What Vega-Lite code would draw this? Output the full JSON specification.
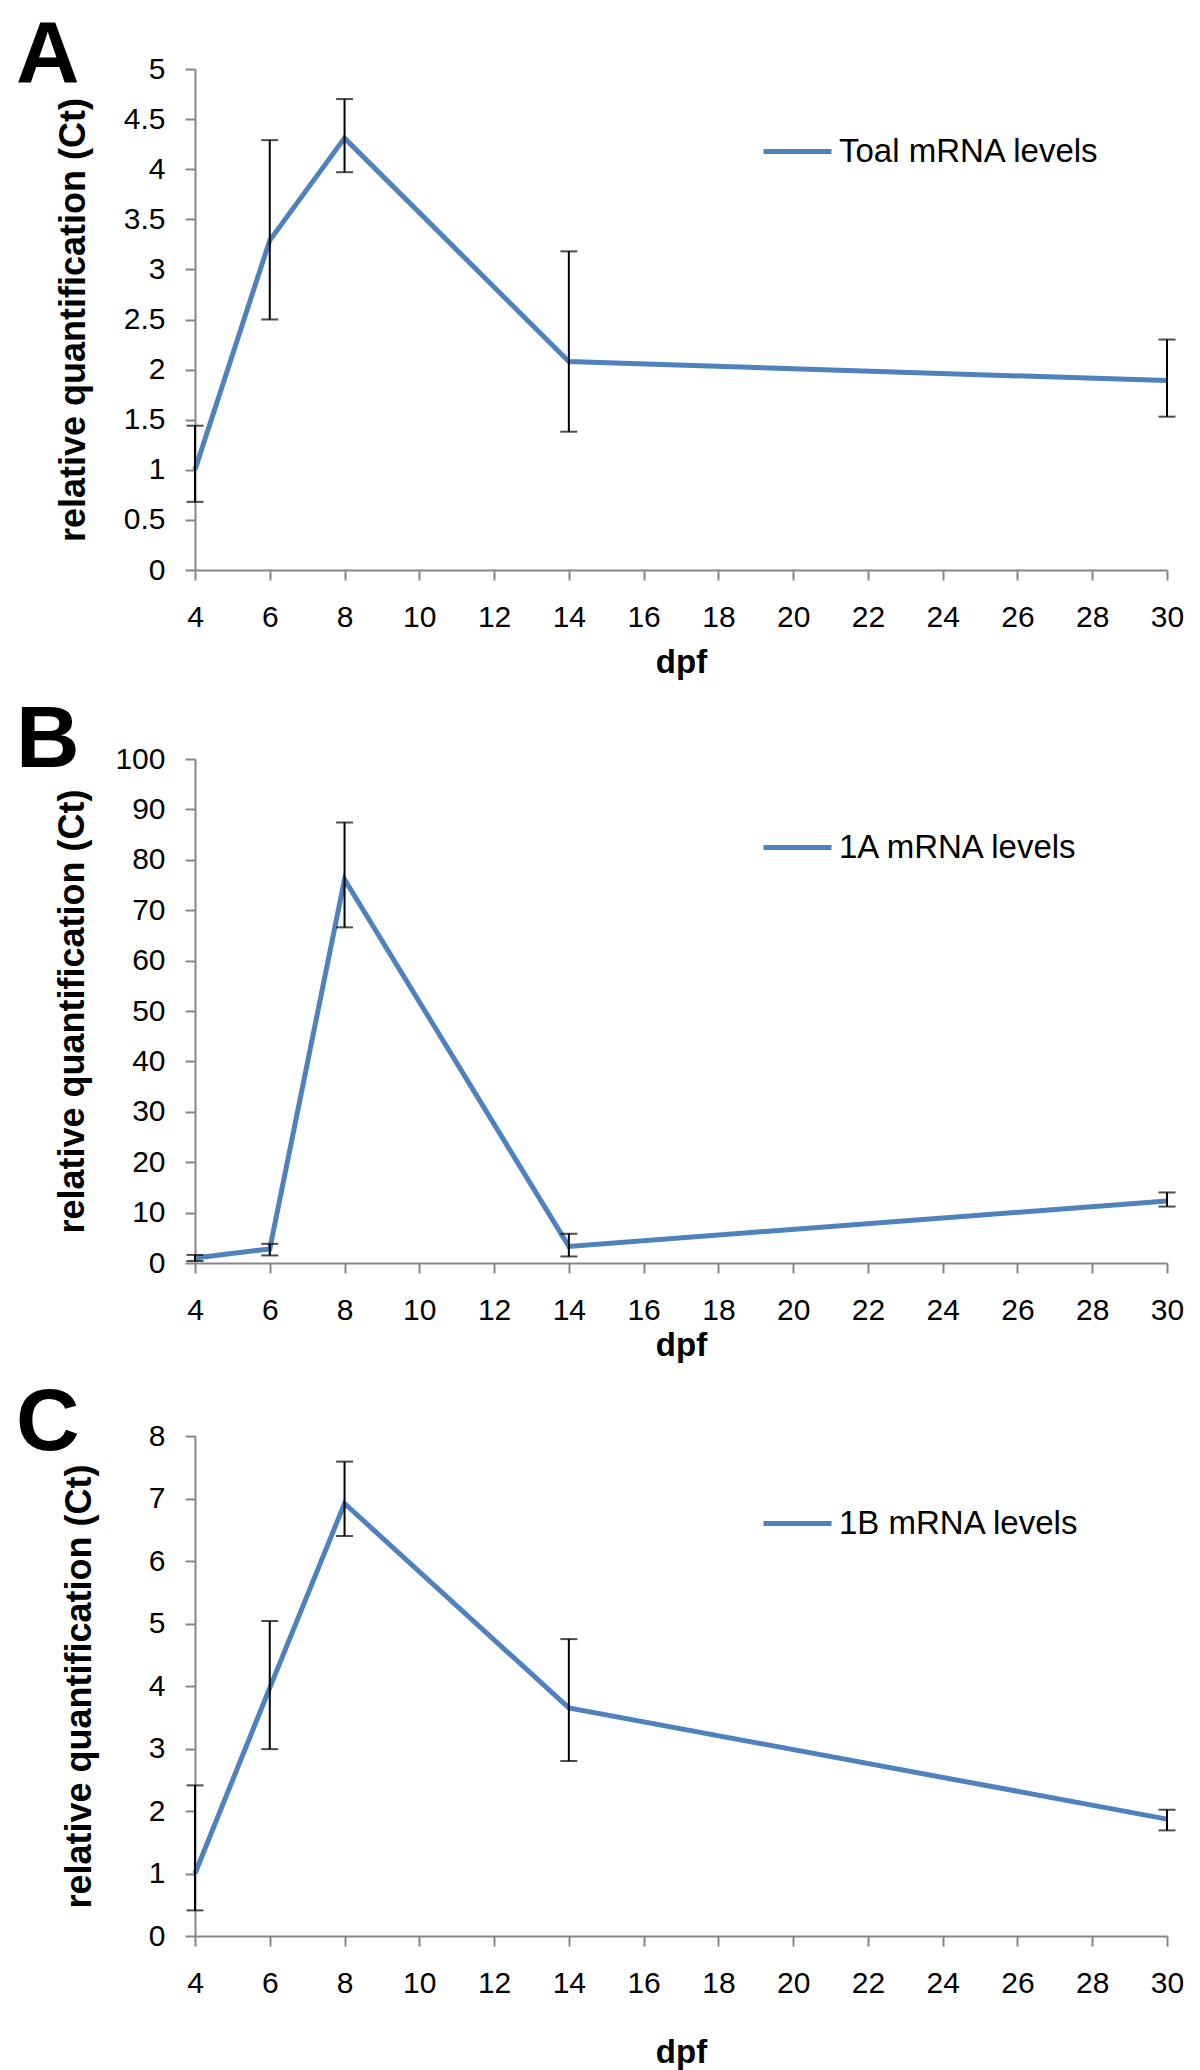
{
  "$schema": "https://vega.github.io/schema/vega-lite/v6.json",
  "background": "white",
  "padding": {"left": 16, "top": 12, "right": 10, "bottom": 4},
  "datasets": {
    "A": [
      {"dpf": 4, "value": 1.0, "lo": 0.68, "hi": 1.44, "series": "Toal mRNA levels"},
      {"dpf": 6, "value": 3.29, "lo": 2.5, "hi": 4.29, "series": "Toal mRNA levels"},
      {"dpf": 8, "value": 4.31, "lo": 3.97, "hi": 4.7, "series": "Toal mRNA levels"},
      {"dpf": 14, "value": 2.08, "lo": 1.38, "hi": 3.18, "series": "Toal mRNA levels"},
      {"dpf": 30, "value": 1.89, "lo": 1.53, "hi": 2.3, "series": "Toal mRNA levels"}
    ],
    "B": [
      {"dpf": 4, "value": 1.0, "lo": 0.4, "hi": 1.6, "series": "1A mRNA levels"},
      {"dpf": 6, "value": 2.8, "lo": 1.5, "hi": 3.8, "series": "1A mRNA levels"},
      {"dpf": 8, "value": 76.1, "lo": 66.6, "hi": 87.4, "series": "1A mRNA levels"},
      {"dpf": 14, "value": 3.3, "lo": 1.3, "hi": 5.8, "series": "1A mRNA levels"},
      {"dpf": 30, "value": 12.3, "lo": 11.2, "hi": 14.0, "series": "1A mRNA levels"}
    ],
    "C": [
      {"dpf": 4, "value": 1.0, "lo": 0.41, "hi": 2.41, "series": "1B mRNA levels"},
      {"dpf": 6, "value": 3.97, "lo": 2.99, "hi": 5.04, "series": "1B mRNA levels"},
      {"dpf": 8, "value": 6.92, "lo": 6.4, "hi": 7.59, "series": "1B mRNA levels"},
      {"dpf": 14, "value": 3.65, "lo": 2.8, "hi": 4.75, "series": "1B mRNA levels"},
      {"dpf": 30, "value": 1.87, "lo": 1.69, "hi": 2.02, "series": "1B mRNA levels"}
    ]
  },
  "config": {
    "view": {"stroke": null},
    "font": "Liberation Sans",
    "axis": {
      "domainColor": "#868686", "domainWidth": 2,
      "tickColor": "#868686", "tickWidth": 2, "tickSize": 10,
      "labelFont": "Liberation Sans", "labelFontSize": 30, "labelColor": "#000",
      "labelFlush": false, "labelOverlap": false,
      "titleFont": "Liberation Sans", "titleFontSize": 36, "titleFontWeight": "bold", "titleColor": "#000",
      "grid": false, "labelPadding": 20
    },
    "axisX": {"labelPadding": 22, "titleFontSize": 33},
    "legend": {
      "orient": "none", "legendX": 566,
      "symbolType": "stroke", "symbolSize": 4624, "symbolStrokeWidth": 5,
      "labelFont": "Liberation Sans", "labelFontSize": 33, "labelColor": "#000",
      "padding": 0, "labelOffset": 5, "labelLimit": 0
    },
    "title": {"font": "Liberation Sans", "fontSize": 88, "fontWeight": "bold", "color": "#000", "anchor": "start", "frame": "group"},
    "concat": {"spacing": 18}
  },
  "resolve": {"scale": {"color": "independent"}, "legend": {"color": "independent"}},
  "vconcat": [
    {
      "width": 972, "height": 501,
      "title": {"text": "A", "dx": -179, "offset": -46},
      "data": {"name": "A"},
      "layer": [
        {
          "mark": {"type": "line", "strokeWidth": 5},
          "encoding": {
            "x": {"field": "dpf", "type": "quantitative", "scale": {"domain": [4, 30], "nice": false, "zero": false}, "axis": {"values": [4, 6, 8, 10, 12, 14, 16, 18, 20, 22, 24, 26, 28, 30], "title": "dpf", "titlePadding": 14}},
            "y": {"field": "value", "type": "quantitative", "scale": {"domain": [0, 5], "nice": false}, "axis": {"values": [0, 0.5, 1, 1.5, 2, 2.5, 3, 3.5, 4, 4.5, 5], "format": ".1~f", "title": "relative quantification (Ct)", "titlePadding": 31}},
            "color": {"field": "series", "type": "nominal", "scale": {"range": ["#4F81BD"]}, "legend": {"title": null, "legendY": 46}}
          }
        },
        {
          "mark": {"type": "rule", "color": "#000", "strokeWidth": 2},
          "encoding": {
            "x": {"field": "dpf", "type": "quantitative", "title": "dpf"},
            "y": {"field": "lo", "type": "quantitative", "title": "relative quantification (Ct)"},
            "y2": {"field": "hi"}
          }
        },
        {
          "mark": {"type": "tick", "orient": "horizontal", "color": "#000", "thickness": 2, "size": 17},
          "encoding": {
            "x": {"field": "dpf", "type": "quantitative", "title": "dpf"},
            "y": {"field": "lo", "type": "quantitative", "title": "relative quantification (Ct)"}
          }
        },
        {
          "mark": {"type": "tick", "orient": "horizontal", "color": "#000", "thickness": 2, "size": 17},
          "encoding": {
            "x": {"field": "dpf", "type": "quantitative", "title": "dpf"},
            "y": {"field": "hi", "type": "quantitative", "title": "relative quantification (Ct)"}
          }
        }
      ]
    },
    {
      "width": 972, "height": 504,
      "title": {"text": "B", "dx": -179, "offset": -41},
      "data": {"name": "B"},
      "layer": [
        {
          "mark": {"type": "line", "strokeWidth": 5},
          "encoding": {
            "x": {"field": "dpf", "type": "quantitative", "scale": {"domain": [4, 30], "nice": false, "zero": false}, "axis": {"values": [4, 6, 8, 10, 12, 14, 16, 18, 20, 22, 24, 26, 28, 30], "title": "dpf", "titlePadding": 4}},
            "y": {"field": "value", "type": "quantitative", "scale": {"domain": [0, 100], "nice": false}, "axis": {"values": [0, 10, 20, 30, 40, 50, 60, 70, 80, 90, 100], "format": "d", "title": "relative quantification (Ct)", "titlePadding": 23}},
            "color": {"field": "series", "type": "nominal", "scale": {"range": ["#4F81BD"]}, "legend": {"title": null, "legendY": 52}}
          }
        },
        {
          "mark": {"type": "rule", "color": "#000", "strokeWidth": 2},
          "encoding": {
            "x": {"field": "dpf", "type": "quantitative", "title": "dpf"},
            "y": {"field": "lo", "type": "quantitative", "title": "relative quantification (Ct)"},
            "y2": {"field": "hi"}
          }
        },
        {
          "mark": {"type": "tick", "orient": "horizontal", "color": "#000", "thickness": 2, "size": 17},
          "encoding": {
            "x": {"field": "dpf", "type": "quantitative", "title": "dpf"},
            "y": {"field": "lo", "type": "quantitative", "title": "relative quantification (Ct)"}
          }
        },
        {
          "mark": {"type": "tick", "orient": "horizontal", "color": "#000", "thickness": 2, "size": 17},
          "encoding": {
            "x": {"field": "dpf", "type": "quantitative", "title": "dpf"},
            "y": {"field": "hi", "type": "quantitative", "title": "relative quantification (Ct)"}
          }
        }
      ]
    },
    {
      "width": 972, "height": 500,
      "title": {"text": "C", "dx": -179, "offset": -47},
      "data": {"name": "C"},
      "layer": [
        {
          "mark": {"type": "line", "strokeWidth": 5},
          "encoding": {
            "x": {"field": "dpf", "type": "quantitative", "scale": {"domain": [4, 30], "nice": false, "zero": false}, "axis": {"values": [4, 6, 8, 10, 12, 14, 16, 18, 20, 22, 24, 26, 28, 30], "title": "dpf", "titlePadding": 38}},
            "y": {"field": "value", "type": "quantitative", "scale": {"domain": [0, 8], "nice": false}, "axis": {"values": [0, 1, 2, 3, 4, 5, 6, 7, 8], "format": "d", "title": "relative quantification (Ct)", "titlePadding": 50}},
            "color": {"field": "series", "type": "nominal", "scale": {"range": ["#4F81BD"]}, "legend": {"title": null, "legendY": 51}}
          }
        },
        {
          "mark": {"type": "rule", "color": "#000", "strokeWidth": 2},
          "encoding": {
            "x": {"field": "dpf", "type": "quantitative", "title": "dpf"},
            "y": {"field": "lo", "type": "quantitative", "title": "relative quantification (Ct)"},
            "y2": {"field": "hi"}
          }
        },
        {
          "mark": {"type": "tick", "orient": "horizontal", "color": "#000", "thickness": 2, "size": 17},
          "encoding": {
            "x": {"field": "dpf", "type": "quantitative", "title": "dpf"},
            "y": {"field": "lo", "type": "quantitative", "title": "relative quantification (Ct)"}
          }
        },
        {
          "mark": {"type": "tick", "orient": "horizontal", "color": "#000", "thickness": 2, "size": 17},
          "encoding": {
            "x": {"field": "dpf", "type": "quantitative", "title": "dpf"},
            "y": {"field": "hi", "type": "quantitative", "title": "relative quantification (Ct)"}
          }
        }
      ]
    }
  ]
}
